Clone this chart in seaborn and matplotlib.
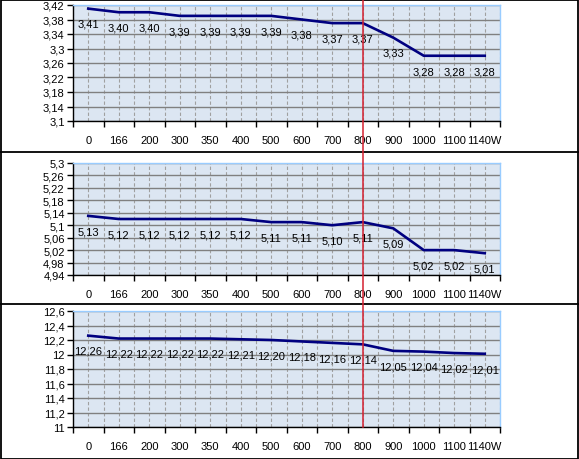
import numpy as np
import pandas as pd
import matplotlib
matplotlib.use("Agg")
import matplotlib.pyplot as plt
import matplotlib.transforms as mtransforms
from matplotlib.lines import Line2D
import seaborn as sns

plt.rcParams['font.family'] = ['Liberation Sans', 'DejaVu Sans']

categories = ['0', '166', '200', '300', '350', '400', '500', '600', '700',
              '800', '900', '1000', '1100', '1140W']
values_top = [3.41, 3.40, 3.40, 3.39, 3.39, 3.39, 3.39, 3.38, 3.37, 3.37,
              3.33, 3.28, 3.28, 3.28]
values_mid = [5.13, 5.12, 5.12, 5.12, 5.12, 5.12, 5.11, 5.11, 5.10, 5.11,
              5.09, 5.02, 5.02, 5.01]
values_bot = [12.26, 12.22, 12.22, 12.22, 12.22, 12.21, 12.20, 12.18, 12.16,
              12.14, 12.05, 12.04, 12.02, 12.01]
yticks_top = [3.1, 3.14, 3.18, 3.22, 3.26, 3.3, 3.34, 3.38, 3.42]
yticks_mid = [4.94, 4.98, 5.02, 5.06, 5.1, 5.14, 5.18, 5.22, 5.26, 5.3]
yticks_bot = [11, 11.2, 11.4, 11.6, 11.8, 12, 12.2, 12.4, 12.6]
marker_category = '800'

W, H = 579, 460
fig = plt.figure(figsize=(W / 100, H / 100), dpi=100)

# plot areas in pixels: (top, bottom)
panels = [
    (values_top, yticks_top, 6, 122),
    (values_mid, yticks_mid, 164, 276),
    (values_bot, yticks_bot, 312, 428),
]
left_px, right_px = 73, 500

def comma(v):
    s = ('%.2f' % v).rstrip('0').rstrip('.')
    return s.replace('.', ',')

axes = []
for vals, yt, top, bot in panels:
    ax = fig.add_axes([left_px / W, 1 - bot / H, (right_px - left_px) / W, (bot - top) / H])
    axes.append(ax)
    df = pd.DataFrame({'x': np.arange(len(categories)), 'y': vals})
    ax.set_facecolor('#DCE6F2')
    sns.lineplot(data=df, x='x', y='y', ax=ax, color='#000080', linewidth=1.9, zorder=3)
    ax.set_xlim(-0.5, len(categories) - 0.5)
    ax.set_ylim(yt[0], yt[-1])
    ax.set_yticks(yt)
    ax.set_yticklabels([comma(v) for v in yt], fontsize=8)
    # category boundaries as major ticks, labels on the centres
    ax.set_xticks(np.arange(-0.5, len(categories), 1.0))
    ax.set_xticklabels([])
    ax.set_xticks(np.arange(len(categories)), minor=True)
    ax.set_xticklabels(categories, minor=True, fontsize=8)
    ax.tick_params(axis='x', which='minor', length=0, pad=10)
    ax.tick_params(axis='x', which='major', length=4, width=1, direction='out')
    ax.tick_params(axis='y', length=4, width=1, direction='out', pad=2)
    ax.set_xlabel('')
    ax.set_ylabel('')
    ax.grid(axis='y', color='#808080', linewidth=1.0, linestyle='-')
    ax.grid(axis='x', which='both', color='#A0A0A0', linewidth=0.8, linestyle=(0, (3, 2)))
    ax.set_axisbelow(True)
    for side in ['top', 'right']:
        ax.spines[side].set_color('#99CCFF')
        ax.spines[side].set_linewidth(1)
    for side in ['left', 'bottom']:
        ax.spines[side].set_color('black')
        ax.spines[side].set_linewidth(1)
    # data labels below each point
    for i, v in enumerate(vals):
        ax.annotate(('%.2f' % v).replace('.', ','),
                    (i, v), xytext=(0, -11), textcoords='offset points',
                    ha='center', va='center', fontsize=8, color='black')

# red marker line through the 800 category
idx = categories.index(marker_category)
trans = mtransforms.blended_transform_factory(axes[2].transData, fig.transFigure)
fig.add_artist(Line2D([idx, idx], [1 - 428 / H, 1.0], transform=trans,
                      color='#D42030', linewidth=1.1, zorder=10))

# panel separators and outer frame
for y in [153, 305]:
    fig.add_artist(Line2D([0, 1], [1 - y / H, 1 - y / H], transform=fig.transFigure,
                          color='black', linewidth=1.3))
fig.add_artist(plt.Rectangle((0.5 / W, 0.5 / H), 1 - 1.5 / W, 1 - 1.5 / H,
                             transform=fig.transFigure, fill=False,
                             edgecolor='black', linewidth=1.3))

fig.savefig('out.png', dpi=100)
